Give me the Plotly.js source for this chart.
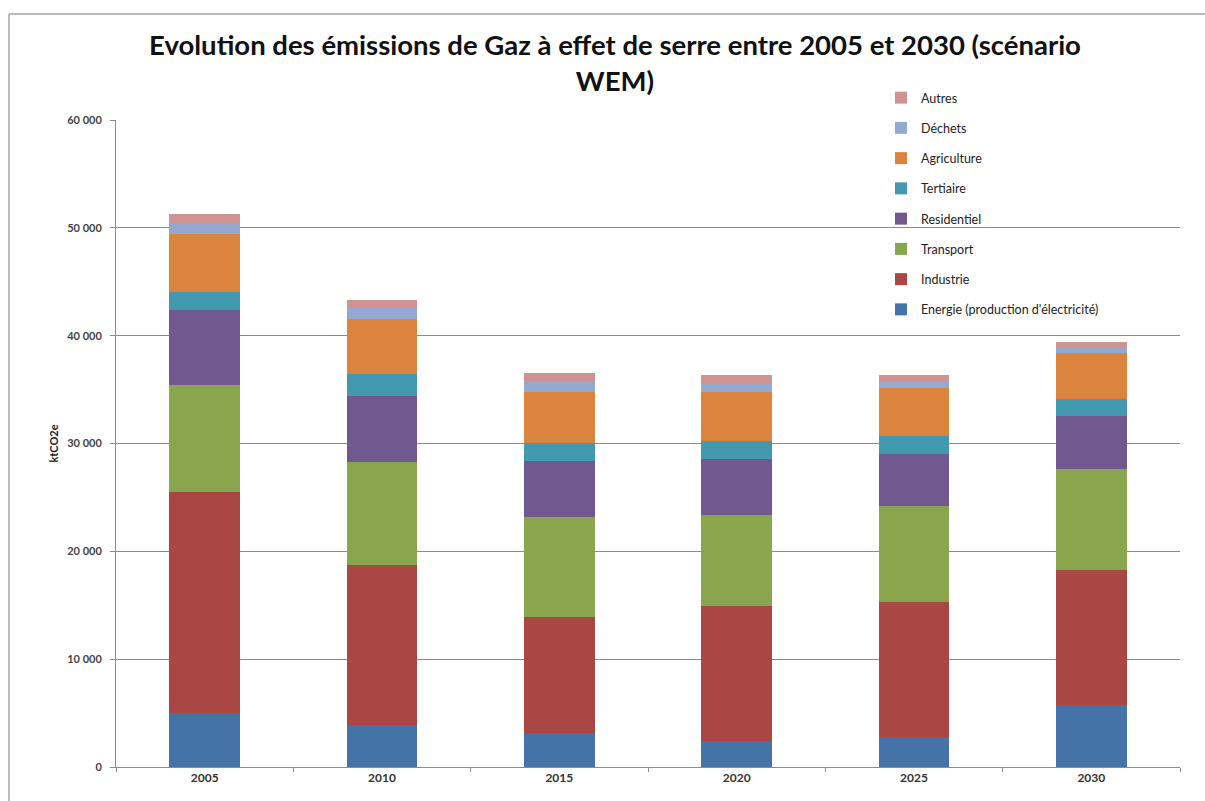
<!DOCTYPE html>
<html>
<head>
<meta charset="utf-8">
<script src="https://cdn.plot.ly/plotly-3.0.1.min.js"></script>
<style>
html,body{margin:0;padding:0;background:#fff;}
#chart{width:1205px;height:801px;}
</style>
</head>
<body>
<div id="chart"></div>
<script>
const years = ['2005', '2010', '2015', '2020', '2025', '2030'];
const energie = [4980, 3850, 3120, 2410, 2810, 5750];
const industrie = [20520, 14880, 10830, 12560, 12530, 12530];
const transport = [9900, 9550, 9220, 8410, 8910, 9340];
const residentiel = [6940, 6150, 5220, 5170, 4790, 4950];
const tertiaire = [1750, 2000, 1640, 1640, 1670, 1580];
const agriculture = [5330, 5150, 4720, 4560, 4420, 4230];
const dechets = [1030, 960, 1000, 900, 620, 530];
const autres = [820, 760, 760, 700, 600, 540];

const seriesNames = ["Energie (production d'électricité)", 'Industrie', 'Transport', 'Residentiel', 'Tertiaire', 'Agriculture', 'Déchets', 'Autres'];
const seriesValues = [energie, industrie, transport, residentiel, tertiaire, agriculture, dechets, autres];
const seriesColors = ['#4572A7', '#AA4643', '#89A54E', '#71588F', '#4198AF', '#DB843D', '#93A9CF', '#D19392'];

const traces = seriesNames.map((name, i) => ({
  type: 'bar',
  name: name,
  x: years,
  y: seriesValues[i],
  legendgroup: 'g' + i,
  legendrank: seriesNames.length - i,
  marker: {color: seriesColors[i], line: {width: 0}},
  hoverinfo: 'name+y'
}));

// plot area in pixels: x 116..1180, y 120..767
const L = 116, R = 1180, T = 120, B = 767;
const px = v => (v - L) / (R - L);
const py = v => (B - v) / (B - T);

const layout = {
  width: 1205,
  height: 801,
  margin: {l: L, r: 1205 - R, t: T, b: 801 - B, pad: 0},
  paper_bgcolor: '#ffffff',
  plot_bgcolor: '#ffffff',
  barmode: 'stack',
  bargap: 0.6,
  separators: ', ',
  font: {family: 'Lato, "Open Sans", sans-serif', color: '#333'},
  title: {
    text: 'Evolution des émissions de Gaz à effet de serre entre 2005 et 2030 (scénario<br>WEM)',
    font: {family: 'Lato, "Open Sans", sans-serif', size: 27.5, color: '#111', weight: 'bold'},
    x: 615 / 1205,
    xanchor: 'center',
    xref: 'container',
    y: 1 - 55 / 801,
    yanchor: 'top',
    yref: 'container'
  },
  xaxis: {
    type: 'category',
    showline: true,
    linecolor: '#8c8c8c',
    linewidth: 1,
    ticks: 'outside',
    tickson: 'boundaries',
    ticklen: 4,
    tickcolor: '#8c8c8c',
    tickfont: {size: 12, color: '#333', weight: 'bold'},
    showgrid: false,
    zeroline: false
  },
  yaxis: {
    range: [0, 60000],
    tickvals: [0, 10000, 20000, 30000, 40000, 50000, 60000],
    tickformat: ',d',
    showline: true,
    linecolor: '#8c8c8c',
    linewidth: 1,
    ticks: 'outside',
    ticklen: 5,
    tickcolor: '#8c8c8c',
    tickfont: {size: 11, color: '#444', weight: 'bold'},
    ticklabelstandoff: 6,
    showgrid: true,
    gridcolor: '#8a8a8a',
    gridwidth: 1,
    zeroline: false,
    title: {
      text: 'ktCO2e',
      font: {size: 11, color: '#222', weight: 'bold'},
      standoff: 6
    }
  },
  legend: {
    x: px(881),
    y: py(83),
    xanchor: 'left',
    yanchor: 'top',
    traceorder: 'grouped',
    tracegroupgap: 11,
    bgcolor: 'rgba(0,0,0,0)',
    font: {size: 12.5, color: '#222'},
    itemwidth: 30
  },
  shapes: [
    {type: 'line', xref: 'paper', yref: 'paper', x0: px(9), x1: px(9), y0: py(801), y1: py(14), line: {color: '#a6a6a6', width: 1.5}},
    {type: 'line', xref: 'paper', yref: 'paper', x0: px(9), x1: px(1205), y0: py(14), y1: py(14), line: {color: '#a6a6a6', width: 1.5}}
  ],
  showlegend: true
};

Plotly.newPlot('chart', traces, layout, {displayModeBar: false, staticPlot: true});
</script>
</body>
</html>
